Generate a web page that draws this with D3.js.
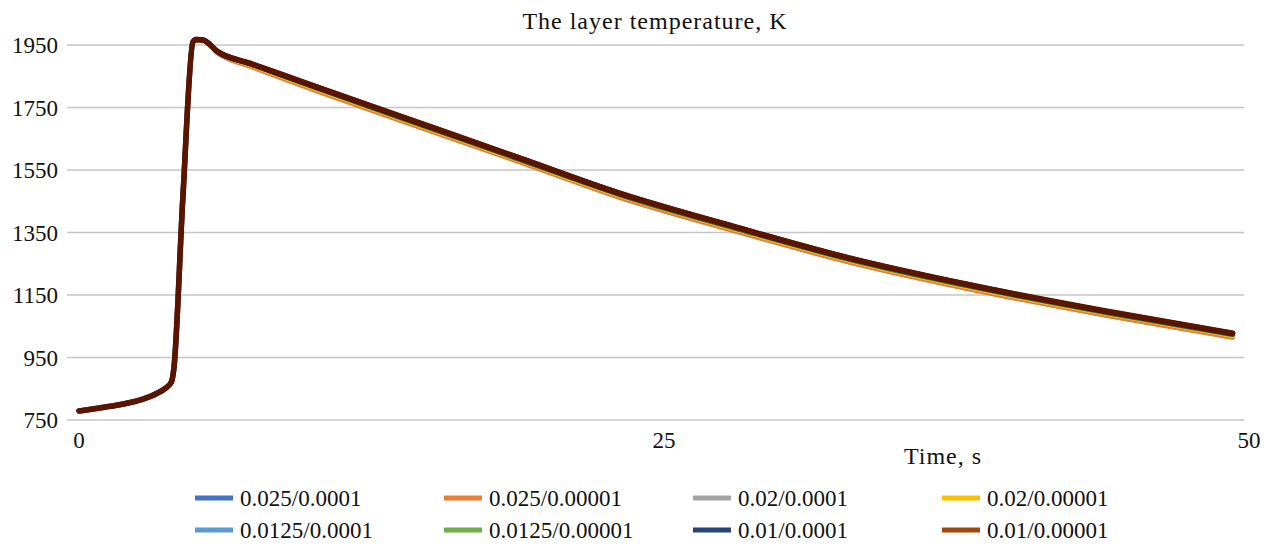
<!DOCTYPE html>
<html>
<head>
<meta charset="utf-8">
<script src="https://cdn.jsdelivr.net/npm/d3@7"></script>
<style>
  body { margin: 0; background: #fff; }
  text { font-family: 'Liberation Serif', 'DejaVu Serif', serif; fill: #111; }
  .grid line { stroke: #c6c6c6; stroke-width: 1.3; }
</style>
</head>
<body>
<div class="container"></div>
<script>
// time points, s
var times = [0, 1, 2, 2.7, 3.3, 3.7, 3.95, 4.05, 4.44, 4.87, 5.0, 5.3, 5.94, 7.3, 10, 13.7, 18.85, 23.1, 28.25, 32.95, 38.1, 44, 49.3]

// layer temperature, K, one array per run (dx/dt)
var t025_0001 = [779, 790, 803, 816, 834, 852, 872, 912, 1464, 1960, 1967, 1965, 1922, 1882, 1807, 1709, 1575, 1462, 1350, 1254, 1168, 1083, 1014]
var t025_00001 = [779, 790, 803, 816, 834, 852, 872, 912, 1464, 1960, 1967, 1965, 1922, 1881, 1806, 1708, 1574, 1461, 1349, 1253, 1167, 1082, 1013]
var t02_0001 = [779, 790, 803, 816, 834, 852, 872, 912, 1464, 1960, 1967, 1965, 1925, 1886, 1812, 1714, 1580, 1467, 1355, 1259, 1173, 1089, 1020]
var t02_00001 = [779, 790, 803, 816, 834, 852, 872, 912, 1464, 1960, 1967, 1965, 1925, 1886, 1812, 1714, 1579, 1467, 1355, 1259, 1173, 1088, 1019]
var t0125_0001 = [779, 790, 803, 816, 834, 852, 872, 912, 1464, 1960, 1968, 1966, 1926, 1889, 1815, 1717, 1582, 1470, 1358, 1262, 1176, 1091, 1022]
var t0125_00001 = [779, 790, 803, 816, 834, 852, 872, 912, 1464, 1960, 1968, 1966, 1926, 1889, 1815, 1717, 1582, 1470, 1358, 1262, 1176, 1091, 1022]
var t01_0001 = [779, 790, 803, 816, 834, 852, 872, 912, 1464, 1960, 1968, 1966, 1928, 1891, 1819, 1722, 1587, 1475, 1363, 1267, 1181, 1096, 1027]
var t01_00001 = [779, 790, 803, 816, 834, 852, 872, 912, 1464, 1960, 1968, 1966, 1928, 1892, 1820, 1723, 1588, 1476, 1364, 1268, 1182, 1097, 1028]

var seriesNames = ['0.025/0.0001', '0.025/0.00001', '0.02/0.0001', '0.02/0.00001',
  '0.0125/0.0001', '0.0125/0.00001', '0.01/0.0001', '0.01/0.00001']
var seriesValues = [t025_0001, t025_00001, t02_0001, t02_00001, t0125_0001, t0125_00001, t01_0001, t01_00001]
var legendColors = ['#4472C4', '#ED7D31', '#A5A5A5', '#FFC000', '#5B9BD5', '#70AD47', '#264478', '#9E480E']
var lineColors = ['#4472C4', '#ED7D31', '#A5A5A5', '#FFC000', '#5B9BD5', '#3f6b1e', '#2a1a30', '#5a1400']

var yTicks = [750, 950, 1150, 1350, 1550, 1750, 1950]
var xTicks = [0, 25, 50]

var W = 1279
var H = 547
var plot = { left: 67, right: 1244, top: 45, bottom: 420 }

var svg = d3.select('.container')
            .append('svg')
            .attr('width', W)
            .attr('height', H)

var xScale = d3.scaleLinear().domain([0, 50]).range([79, 1249])
var yScale = d3.scaleLinear().domain([750, 1950]).range([plot.bottom, plot.top])

// horizontal grid
svg.append('g')
   .attr('class', 'grid')
   .selectAll('line')
   .data(yTicks)
   .enter()
   .append('line')
   .attr('x1', plot.left)
   .attr('x2', plot.right)
   .attr('y1', function (d) { return yScale(d) })
   .attr('y2', function (d) { return yScale(d) })

// y labels
svg.append('g')
   .selectAll('text')
   .data(yTicks)
   .enter()
   .append('text')
   .attr('x', 58)
   .attr('y', function (d) { return yScale(d) })
   .attr('dy', '0.35em')
   .attr('text-anchor', 'end')
   .style('font-size', '23px')
   .text(function (d) { return d })

// x labels
svg.append('g')
   .selectAll('text')
   .data(xTicks)
   .enter()
   .append('text')
   .attr('x', function (d) { return xScale(d) })
   .attr('y', 448)
   .attr('text-anchor', 'middle')
   .style('font-size', '23px')
   .text(function (d) { return d })

svg.append('text')
   .attr('x', 655)
   .attr('y', 29)
   .attr('text-anchor', 'middle')
   .style('font-size', '24px')
   .style('letter-spacing', '1px')
   .text('The layer temperature, K')

svg.append('text')
   .attr('x', 943)
   .attr('y', 464)
   .attr('text-anchor', 'middle')
   .style('font-size', '24px')
   .style('letter-spacing', '1px')
   .text('Time, s')

var valueline = d3.line()
                  .x(function (d, i) { return xScale(times[i]) })
                  .y(function (d) { return yScale(d) })
                  .curve(d3.curveMonotoneX)

svg.append('g')
   .selectAll('path')
   .data(seriesValues)
   .enter()
   .append('path')
   .attr('d', function (d) { return valueline(d) })
   .attr('fill', 'none')
   .attr('stroke', function (d, i) { return lineColors[i] })
   .attr('stroke-width', function (d, i) { return i >= 6 ? 5.5 : 4 })
   .attr('stroke-linejoin', 'round')
   .attr('stroke-linecap', 'round')

// legend, 4 columns x 2 rows
var legend = svg.append('g')
                .selectAll('.legendItem')
                .data(seriesNames)
                .enter()
                .append('g')
                .attr('class', 'legendItem')
                .attr('transform', function (d, i) {
                  return 'translate(' + (195 + (i % 4) * 249) + ',' + (498 + Math.floor(i / 4) * 32) + ')'
                })

legend.append('rect')
      .attr('x', 0)
      .attr('y', -2.5)
      .attr('width', 38)
      .attr('height', 5)
      .attr('fill', function (d, i) { return legendColors[i] })

legend.append('text')
      .attr('x', 45)
      .attr('dy', '0.35em')
      .style('font-size', '23px')
      .text(function (d) { return d })
</script>
</body>
</html>
